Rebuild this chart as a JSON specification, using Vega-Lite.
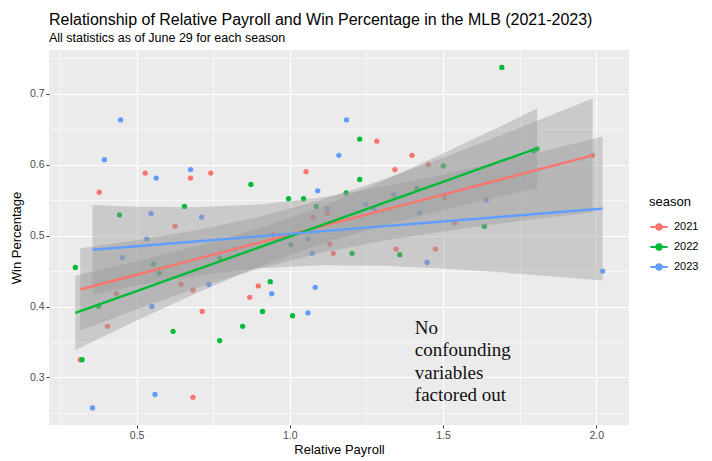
{
  "$schema": "https://vega.github.io/schema/vega-lite/v6.json",
  "autosize": "none",
  "width": 580,
  "height": 375,
  "padding": {"left": 49, "top": 50, "right": 83, "bottom": 36},
  "background": "white",
  "title": {
    "text": "Relationship of Relative Payroll and Win Percentage in the MLB (2021-2023)",
    "subtitle": "All statistics as of June 29 for each season",
    "anchor": "start",
    "frame": "group",
    "font": "Liberation Sans",
    "fontSize": 16,
    "fontWeight": "normal",
    "color": "#000000",
    "subtitleFont": "Liberation Sans",
    "subtitleFontSize": 12.5,
    "subtitleColor": "#000000",
    "subtitlePadding": 4,
    "offset": 6
  },
  "config": {
    "font": "Liberation Sans",
    "view": {"fill": "#EBEBEB", "stroke": null},
    "legend": {"titleFontWeight": "normal"}
  },
  "datasets": {
    "points": [
      {"season": "2021", "payroll": 0.528, "winpct": 0.588},
      {"season": "2021", "payroll": 0.676, "winpct": 0.581},
      {"season": "2021", "payroll": 0.742, "winpct": 0.588},
      {"season": "2021", "payroll": 0.378, "winpct": 0.561},
      {"season": "2021", "payroll": 0.625, "winpct": 0.513},
      {"season": "2021", "payroll": 0.645, "winpct": 0.431},
      {"season": "2021", "payroll": 0.684, "winpct": 0.423},
      {"season": "2021", "payroll": 0.897, "winpct": 0.429},
      {"season": "2021", "payroll": 0.434, "winpct": 0.418},
      {"season": "2021", "payroll": 0.714, "winpct": 0.393},
      {"season": "2021", "payroll": 0.869, "winpct": 0.413},
      {"season": "2021", "payroll": 0.405, "winpct": 0.372},
      {"season": "2021", "payroll": 0.316, "winpct": 0.325},
      {"season": "2021", "payroll": 0.684, "winpct": 0.272},
      {"season": "2021", "payroll": 1.284, "winpct": 0.633},
      {"season": "2021", "payroll": 1.399, "winpct": 0.613},
      {"season": "2021", "payroll": 1.053, "winpct": 0.590},
      {"season": "2021", "payroll": 1.343, "winpct": 0.593},
      {"season": "2021", "payroll": 1.452, "winpct": 0.600},
      {"season": "2021", "payroll": 1.122, "winpct": 0.532},
      {"season": "2021", "payroll": 1.076, "winpct": 0.526},
      {"season": "2021", "payroll": 1.504, "winpct": 0.554},
      {"season": "2021", "payroll": 1.131, "winpct": 0.488},
      {"season": "2021", "payroll": 1.142, "winpct": 0.475},
      {"season": "2021", "payroll": 1.347, "winpct": 0.481},
      {"season": "2021", "payroll": 1.475, "winpct": 0.481},
      {"season": "2021", "payroll": 1.988, "winpct": 0.613},
      {"season": "2021", "payroll": 1.538, "winpct": 0.518},
      {"season": "2021", "payroll": 0.945, "winpct": 0.501},
      {"season": "2022", "payroll": 0.873, "winpct": 0.572},
      {"season": "2022", "payroll": 0.656, "winpct": 0.541},
      {"season": "2022", "payroll": 0.444, "winpct": 0.529},
      {"season": "2022", "payroll": 0.300, "winpct": 0.455},
      {"season": "2022", "payroll": 0.555, "winpct": 0.460},
      {"season": "2022", "payroll": 0.574, "winpct": 0.447},
      {"season": "2022", "payroll": 0.772, "winpct": 0.468},
      {"season": "2022", "payroll": 0.376, "winpct": 0.400},
      {"season": "2022", "payroll": 0.619, "winpct": 0.365},
      {"season": "2022", "payroll": 0.846, "winpct": 0.372},
      {"season": "2022", "payroll": 0.771, "winpct": 0.352},
      {"season": "2022", "payroll": 0.322, "winpct": 0.325},
      {"season": "2022", "payroll": 1.228, "winpct": 0.636},
      {"season": "2022", "payroll": 1.501, "winpct": 0.598},
      {"season": "2022", "payroll": 0.996, "winpct": 0.552},
      {"season": "2022", "payroll": 1.045, "winpct": 0.552},
      {"season": "2022", "payroll": 1.184, "winpct": 0.560},
      {"season": "2022", "payroll": 1.228, "winpct": 0.579},
      {"season": "2022", "payroll": 1.086, "winpct": 0.541},
      {"season": "2022", "payroll": 1.415, "winpct": 0.566},
      {"season": "2022", "payroll": 1.003, "winpct": 0.487},
      {"season": "2022", "payroll": 1.203, "winpct": 0.475},
      {"season": "2022", "payroll": 1.359, "winpct": 0.473},
      {"season": "2022", "payroll": 0.936, "winpct": 0.435},
      {"season": "2022", "payroll": 0.911, "winpct": 0.393},
      {"season": "2022", "payroll": 1.009, "winpct": 0.387},
      {"season": "2022", "payroll": 1.692, "winpct": 0.737},
      {"season": "2022", "payroll": 1.795, "winpct": 0.619},
      {"season": "2022", "payroll": 1.807, "winpct": 0.622},
      {"season": "2022", "payroll": 1.635, "winpct": 0.513},
      {"season": "2023", "payroll": 0.448, "winpct": 0.663},
      {"season": "2023", "payroll": 0.395, "winpct": 0.607},
      {"season": "2023", "payroll": 0.564, "winpct": 0.581},
      {"season": "2023", "payroll": 0.676, "winpct": 0.593},
      {"season": "2023", "payroll": 0.547, "winpct": 0.531},
      {"season": "2023", "payroll": 0.712, "winpct": 0.526},
      {"season": "2023", "payroll": 0.533, "winpct": 0.495},
      {"season": "2023", "payroll": 0.453, "winpct": 0.469},
      {"season": "2023", "payroll": 0.821, "winpct": 0.481},
      {"season": "2023", "payroll": 0.736, "winpct": 0.431},
      {"season": "2023", "payroll": 0.550, "winpct": 0.400},
      {"season": "2023", "payroll": 0.560, "winpct": 0.276},
      {"season": "2023", "payroll": 0.356, "winpct": 0.257},
      {"season": "2023", "payroll": 1.185, "winpct": 0.663},
      {"season": "2023", "payroll": 1.160, "winpct": 0.613},
      {"season": "2023", "payroll": 1.091, "winpct": 0.563},
      {"season": "2023", "payroll": 1.122, "winpct": 0.538},
      {"season": "2023", "payroll": 1.248, "winpct": 0.544},
      {"season": "2023", "payroll": 1.275, "winpct": 0.538},
      {"season": "2023", "payroll": 1.339, "winpct": 0.558},
      {"season": "2023", "payroll": 1.423, "winpct": 0.532},
      {"season": "2023", "payroll": 1.059, "winpct": 0.495},
      {"season": "2023", "payroll": 1.073, "winpct": 0.475},
      {"season": "2023", "payroll": 1.448, "winpct": 0.462},
      {"season": "2023", "payroll": 0.941, "winpct": 0.418},
      {"season": "2023", "payroll": 1.083, "winpct": 0.427},
      {"season": "2023", "payroll": 1.059, "winpct": 0.391},
      {"season": "2023", "payroll": 1.641, "winpct": 0.550},
      {"season": "2023", "payroll": 2.021, "winpct": 0.450}
    ],
    "fits": [
      {"season": "2021", "payroll": 0.316, "fit": 0.424, "lower": 0.366, "upper": 0.482},
      {"season": "2021", "payroll": 0.5, "fit": 0.4448, "lower": 0.3962, "upper": 0.4934},
      {"season": "2021", "payroll": 0.7, "fit": 0.4674, "lower": 0.4269, "upper": 0.5079},
      {"season": "2021", "payroll": 0.9, "fit": 0.49, "lower": 0.4537, "upper": 0.5263},
      {"season": "2021", "payroll": 1.1, "fit": 0.5126, "lower": 0.4753, "upper": 0.5499},
      {"season": "2021", "payroll": 1.3, "fit": 0.5352, "lower": 0.4922, "upper": 0.5782},
      {"season": "2021", "payroll": 1.5, "fit": 0.5578, "lower": 0.5058, "upper": 0.6098},
      {"season": "2021", "payroll": 1.7, "fit": 0.5804, "lower": 0.5176, "upper": 0.6432},
      {"season": "2021", "payroll": 1.988, "fit": 0.6129, "lower": 0.5327, "upper": 0.6931},
      {"season": "2022", "payroll": 0.3, "fit": 0.391, "lower": 0.3387, "upper": 0.4433},
      {"season": "2022", "payroll": 0.5, "fit": 0.4218, "lower": 0.3801, "upper": 0.4635},
      {"season": "2022", "payroll": 0.7, "fit": 0.4526, "lower": 0.4199, "upper": 0.4853},
      {"season": "2022", "payroll": 0.9, "fit": 0.4833, "lower": 0.4565, "upper": 0.5101},
      {"season": "2022", "payroll": 1.1, "fit": 0.5141, "lower": 0.4879, "upper": 0.5403},
      {"season": "2022", "payroll": 1.3, "fit": 0.5449, "lower": 0.5137, "upper": 0.5761},
      {"season": "2022", "payroll": 1.5, "fit": 0.5757, "lower": 0.5359, "upper": 0.6155},
      {"season": "2022", "payroll": 1.7, "fit": 0.6065, "lower": 0.5564, "upper": 0.6566},
      {"season": "2022", "payroll": 1.807, "fit": 0.6229, "lower": 0.5669, "upper": 0.6789},
      {"season": "2023", "payroll": 0.356, "fit": 0.48, "lower": 0.417, "upper": 0.543},
      {"season": "2023", "payroll": 0.5, "fit": 0.485, "lower": 0.4295, "upper": 0.5405},
      {"season": "2023", "payroll": 0.7, "fit": 0.492, "lower": 0.4442, "upper": 0.5398},
      {"season": "2023", "payroll": 0.9, "fit": 0.4989, "lower": 0.4539, "upper": 0.5439},
      {"season": "2023", "payroll": 1.1, "fit": 0.5059, "lower": 0.4581, "upper": 0.5537},
      {"season": "2023", "payroll": 1.3, "fit": 0.5129, "lower": 0.4574, "upper": 0.5684},
      {"season": "2023", "payroll": 1.5, "fit": 0.5198, "lower": 0.4535, "upper": 0.5861},
      {"season": "2023", "payroll": 1.7, "fit": 0.5268, "lower": 0.4478, "upper": 0.6058},
      {"season": "2023", "payroll": 1.9, "fit": 0.5338, "lower": 0.441, "upper": 0.6266},
      {"season": "2023", "payroll": 2.021, "fit": 0.538, "lower": 0.4365, "upper": 0.6395}
    ],
    "note": [
      {"payroll": 1.408, "winpct": 0.3613, "label": ["No", "confounding", "variables", "factored out"]}
    ]
  },
  "resolve": {"axis": {"x": "independent", "y": "independent"}},
  "layer": [
    {
      "data": {"name": "points"},
      "mark": {"type": "point", "filled": true, "size": 28, "opacity": 1},
      "encoding": {
        "x": {
          "field": "payroll", "type": "quantitative",
          "scale": {"domain": [0.214, 2.107], "nice": false, "zero": false},
          "axis": {
            "title": "Relative Payroll", "values": [0.5, 1, 1.5, 2], "format": ".1f",
            "grid": true, "gridColor": "#FFFFFF", "gridWidth": 1.2,
            "domain": false, "ticks": true, "tickSize": 3, "tickColor": "#333333", "tickWidth": 1,
            "labelFontSize": 10.5, "labelColor": "#4D4D4D", "labelPadding": 2,
            "titleFontSize": 13, "titleFontWeight": "normal", "titleColor": "#000000", "titlePadding": 3,
            "orient": "bottom", "zindex": 0
          }
        },
        "y": {
          "field": "winpct", "type": "quantitative",
          "scale": {"domain": [0.233, 0.7615], "nice": false, "zero": false},
          "axis": {
            "title": "Win Percentage", "values": [0.3, 0.4, 0.5, 0.6, 0.7], "format": ".1f",
            "grid": true, "gridColor": "#FFFFFF", "gridWidth": 1.2,
            "domain": false, "ticks": true, "tickSize": 3, "tickColor": "#333333", "tickWidth": 1,
            "labelFontSize": 10.5, "labelColor": "#4D4D4D", "labelPadding": 2,
            "titleFontSize": 13, "titleFontWeight": "normal", "titleColor": "#000000", "titlePadding": 6,
            "orient": "left", "zindex": 0
          }
        },
        "color": {
          "field": "season", "type": "nominal",
          "scale": {"domain": ["2021", "2022", "2023"], "range": ["#F8766D", "#00BA38", "#619CFF"]},
          "legend": {
            "title": "season", "orient": "none", "legendX": 600, "legendY": 146,
            "titleFontSize": 13, "titleColor": "#000000", "titlePadding": 8,
            "labelFontSize": 11, "labelColor": "#000000", "labelOffset": 5,
            "symbolType": "M-1,0L1,0M-0.3,0A0.3,0.3 0 1,0 0.3,0A0.3,0.3 0 1,0 -0.3,0",
            "symbolSize": 300, "symbolStrokeWidth": 2.2, "rowPadding": 3,
            "encode": {"symbols": {"update": {"stroke": {"scale": "color", "field": "value"}, "strokeWidth": {"value": 2.2}}}}
          }
        }
      }
    },
    {
      "data": {"name": "fits"},
      "mark": {"type": "area", "color": "#999999", "fillOpacity": 0.4, "interpolate": "linear"},
      "encoding": {
        "x": {
          "field": "payroll", "type": "quantitative",
          "axis": {
            "values": [0.25, 0.75, 1.25, 1.75], "grid": true, "gridColor": "#FFFFFF", "gridWidth": 0.6,
            "domain": false, "ticks": false, "labels": false, "title": null, "orient": "bottom", "zindex": 0
          }
        },
        "y": {
          "field": "lower", "type": "quantitative",
          "axis": {
            "values": [0.25, 0.35, 0.45, 0.55, 0.65, 0.75], "grid": true, "gridColor": "#FFFFFF", "gridWidth": 0.6,
            "domain": false, "ticks": false, "labels": false, "title": null, "orient": "left", "zindex": 0
          }
        },
        "y2": {"field": "upper"},
        "detail": {"field": "season", "type": "nominal"}
      }
    },
    {
      "data": {"name": "fits"},
      "mark": {"type": "line", "strokeWidth": 2.4},
      "encoding": {
        "x": {"field": "payroll", "type": "quantitative", "axis": null},
        "y": {"field": "fit", "type": "quantitative", "axis": null},
        "color": {"field": "season", "type": "nominal", "legend": null},
        "order": {"field": "payroll", "type": "quantitative"}
      }
    },
    {
      "data": {"name": "note"},
      "mark": {"type": "text", "font": "Liberation Serif", "fontSize": 19, "lineHeight": 22.5, "align": "left", "baseline": "alphabetic", "color": "#111111"},
      "encoding": {
        "x": {"field": "payroll", "type": "quantitative", "axis": null},
        "y": {"field": "winpct", "type": "quantitative", "axis": null},
        "text": {"field": "label"}
      }
    }
  ]
}
